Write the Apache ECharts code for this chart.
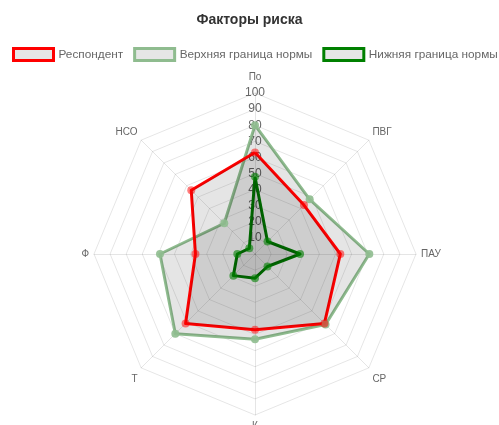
<!DOCTYPE html>
<html><head><meta charset="utf-8">
<script src="https://cdn.jsdelivr.net/npm/echarts@6/dist/echarts.min.js"></script>
<style>html,body{margin:0;padding:0;background:#fff}#c{width:499px;height:425px}</style>
</head><body><div id="c"></div>
<script>
// Axes listed clockwise starting from the top
const axes = ['По', 'ПВГ', 'ПАУ', 'СР', 'К', 'Т', 'Ф', 'НСО'];
const respondent = [63, 43, 53, 61, 47, 61, 37, 56];
const upperNorm  = [80, 48, 71, 62, 53, 70, 59, 27];
const lowerNorm  = [48, 11, 28, 11, 15, 19, 11, 5];
const seriesNames = ['Респондент', 'Верхняя граница нормы', 'Нижняя граница нормы'];
const scaleMin = 0, scaleMax = 100, scaleSteps = 10;

// ECharts lays radar indicators counter-clockwise: reorder to keep clockwise layout
const order = [0, 7, 6, 5, 4, 3, 2, 1];
const ccw = arr => order.map(i => arr[i]);

const grid = 'rgba(0,0,0,0.1)';
const fill = 'rgba(0,0,0,0.1)';
const red = '#ff0000', light = '#8fbc8f', dark = '#008000';

const indicator = ccw(axes).map((n, i) => {
  const o = { name: n, min: scaleMin, max: scaleMax };
  if (i === 0) o.axisLabel = { show: true };
  return o;
});

// label nudges by direction (Chart.js-like point label placement)
function nameFormatter(name) {
  const i = axes.indexOf(name);
  const s = Math.sin((90 - i * 360 / axes.length) * Math.PI / 180);
  if (s > 0.9) return '{top|' + name + '}';
  if (s > 0.1) return '{up|' + name + '}';
  if (s < -0.9) return '{bottom|' + name + '}';
  if (s < -0.1) return '{down|' + name + '}';
  return name;
}

function item(name, values, color, ptColor) {
  return {
    name, value: ccw(values),
    lineStyle: { color, width: 3 },
    areaStyle: { color: fill, opacity: 1 },
    itemStyle: { color: ptColor, borderWidth: 0 },
    symbol: 'circle', symbolSize: 8
  };
}

const chart = echarts.init(document.getElementById('c'), null, { renderer: 'canvas' });
chart.setOption({
  animation: false,
  textStyle: { fontFamily: 'Liberation Sans, Arial, sans-serif' },
  title: {
    text: 'Факторы риска', left: 'center', top: 8,
    textStyle: { fontSize: 14, fontWeight: 'bold', color: '#333', fontFamily: 'Liberation Sans, Arial, sans-serif' }
  },
  legend: {
    top: 47, left: 12, width: 487, padding: 0,
    itemWidth: 40, itemHeight: 12, itemGap: 10, icon: 'rect',
    textStyle: { fontSize: 11.8, color: '#666' },
    data: [
      { name: seriesNames[0], itemStyle: { color: '#e6e6e6', borderColor: red, borderWidth: 3 } },
      { name: seriesNames[1], itemStyle: { color: '#e6e6e6', borderColor: light, borderWidth: 3 } },
      { name: seriesNames[2], itemStyle: { color: '#e6e6e6', borderColor: dark, borderWidth: 3 } }
    ]
  },
  radar: {
    center: [255, 254], radius: 161, startAngle: 90, shape: 'polygon',
    splitNumber: scaleSteps,
    indicator,
    axisName: {
      color: '#666', fontSize: 10,
      formatter: nameFormatter,
      rich: {
        top: { fontSize: 10, color: '#666', padding: [0, 0, 6, 0] },
        up: { fontSize: 10, color: '#666', padding: [0, 0, 8, 0] },
        bottom: { fontSize: 10, color: '#666', padding: [1, 0, 0, 0] },
        down: { fontSize: 10, color: '#666', padding: [16, 0, 0, 0] }
      }
    },
    nameGap: 5,
    axisLine: { lineStyle: { color: grid, width: 1 } },
    splitLine: { lineStyle: { color: grid, width: 1 } },
    splitArea: { show: false },
    axisTick: { show: false },
    axisLabel: {
      show: false, color: '#666', fontSize: 12, align: 'center', verticalAlign: 'middle',
      margin: 0, showMinLabel: false
    }
  },
  series: [{
    type: 'radar',
    data: [
      item(seriesNames[2], lowerNorm, dark, 'rgba(0,128,0,0.6)'),
      item(seriesNames[1], upperNorm, light, 'rgba(143,188,143,0.9)'),
      item(seriesNames[0], respondent, red, 'rgba(255,0,0,0.5)')
    ]
  }]
});
</script></body></html>
